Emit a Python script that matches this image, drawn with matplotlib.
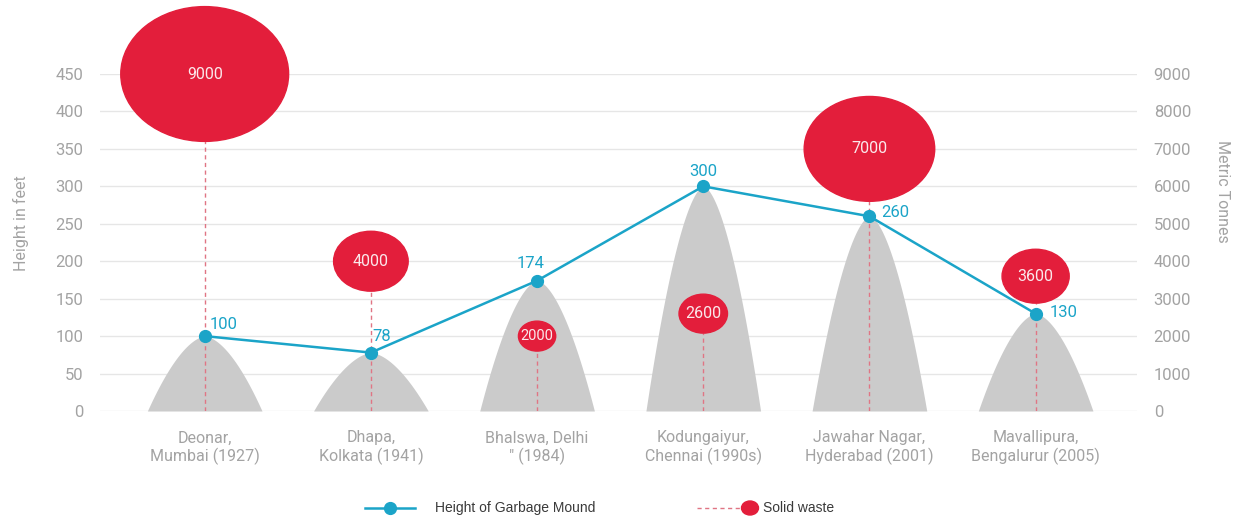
import numpy as np
import matplotlib.pyplot as plt
from matplotlib.patches import Ellipse
from matplotlib.lines import Line2D

# data
sites = ['Deonar,\nMumbai (1927)', 'Dhapa,\nKolkata (1941)', 'Bhalswa, Delhi\n" (1984)',
         'Kodungaiyur,\nChennai (1990s)', 'Jawahar Nagar,\nHyderabad (2001)',
         'Mavallipura,\nBengalurur (2005)']
height_ft = [100, 78, 174, 300, 260, 130]
waste_t = [9000, 4000, 2000, 2600, 7000, 3600]
left_ticks = list(range(0, 451, 50))
right_ticks = list(range(0, 9001, 1000))

# label offsets (pixels) and alignment for the height labels
lab_off = [(5, 12, 'left'), (1, 16, 'left'), (-7, 17, 'center'),
           (0, 15, 'center'), (12, 4, 'left'), (14, 1, 'left')]

BLUE = '#1ba4c8'
RED = '#e31e3b'
GREY_TXT = '#a3a3a3'
narrow = ['Roboto', 'DejaVu Sans']

W, H = 1242, 523
fig = plt.figure(figsize=(W / 100, H / 100), dpi=100)
ax = fig.add_axes([100 / W, 1 - 411 / H, 1037 / W, 337 / H])
ax2 = ax.twinx()
ax.set_zorder(2)
ax2.set_zorder(1)
ax.patch.set_visible(False)

x = np.arange(len(sites))
ax.set_xlim(-0.63, 5.61)
ax.set_ylim(0, 450)
ax2.set_ylim(0, 9000)

# grid on the right axis (same positions)
ax2.set_yticks(right_ticks)
ax2.yaxis.grid(True, color='#e6e6e6', lw=1, zorder=0)
ax2.set_axisbelow(True)

# mounds
u = np.linspace(-1, 1, 300)
for xi, h in zip(x, height_ft):
    ax2.fill_between(xi + u * 0.345, 0, h * (1 - np.abs(u) ** 1.7),
                     transform=ax.transData, color='#cbcbcb', lw=0, zorder=1)

# bubbles with dashed stems
for xi, v in zip(x, waste_t):
    ew = v / 9000 * 1.01
    eh = v / 9000 * 3600
    ax2.plot([xi, xi], [0, v - eh / 2], ls=(0, (3, 2.5)), color='#e07584', lw=1, zorder=2)
    ax2.add_patch(Ellipse((xi, v), ew, eh, color=RED, zorder=3, clip_on=False))
    fs = 10.5 if v <= 2000 else 11.5
    ax2.text(xi, v, str(v), ha='center', va='center', color='#fbe8eb', fontsize=fs,
             family='Roboto', zorder=4, clip_on=False)

# height line
ax.plot(x, height_ft, color=BLUE, lw=1.8, marker='o', ms=8.5, zorder=3, clip_on=False)
for xi, h, (dx, dy, ha) in zip(x, height_ft, lab_off):
    ax.annotate(str(h), (xi, h), xytext=(dx * 0.72, dy * 0.72), textcoords='offset points',
                ha=ha, va='center', color=BLUE, fontsize=12, family='Roboto')

# axes styling
ax.set_yticks(left_ticks)
ax.set_xticks(x)
ax.set_xticklabels(sites, family=narrow, fontsize=11.5, color=GREY_TXT, linespacing=1.15)
for lab in ax.get_yticklabels():
    lab.set_family(narrow)
for lab in ax2.get_yticklabels():
    lab.set_family(narrow)
ax.tick_params(axis='y', length=0, pad=12, labelsize=12, labelcolor=GREY_TXT)
ax.tick_params(axis='x', length=0, pad=14)
ax2.tick_params(axis='y', length=0, pad=12, labelsize=12, labelcolor=GREY_TXT)
for a in (ax, ax2):
    for s in a.spines.values():
        s.set_visible(False)

fig.text(21 / W, 1 - 223 / H, 'Height in feet', rotation=90, ha='center', va='center',
         fontsize=11.5, color=GREY_TXT, family=narrow)
fig.text(1223 / W, 1 - 191 / H, 'Metric Tonnes', rotation=270, ha='center', va='center',
         fontsize=11.5, color=GREY_TXT, family=narrow)

# legend
ly = 1 - 508 / H
fig.add_artist(Line2D([365 / W, 415 / W], [ly, ly], color=BLUE, lw=1.8))
fig.add_artist(Line2D([390 / W], [ly], color=BLUE, marker='o', ms=8.5))
fig.text(435 / W, ly, 'Height of Garbage Mound', va='center', fontsize=10,
         color='#3a3a3a', family='Liberation Sans')
fig.add_artist(Line2D([697 / W, 742 / W], [ly, ly], color='#e07584', lw=1, ls=(0, (3, 2.5))))
fig.add_artist(Ellipse((750 / W, ly), 17 / W, 14 / H, color=RED, transform=fig.transFigure))
fig.text(763 / W, ly, 'Solid waste', va='center', fontsize=10,
         color='#3a3a3a', family='Liberation Sans')

fig.savefig('out.png', dpi=100, facecolor='white')
